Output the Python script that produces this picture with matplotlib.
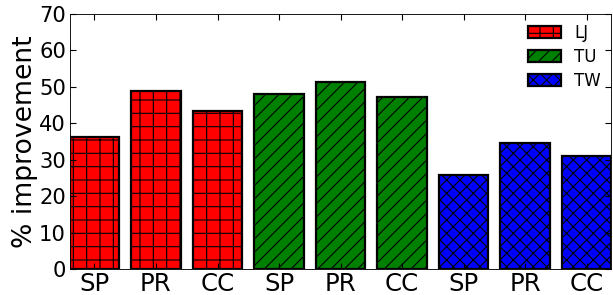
import matplotlib
matplotlib.use('Agg')
import matplotlib.pyplot as plt
import numpy as np

# data
labels = ['SP', 'PR', 'CC', 'SP', 'PR', 'CC', 'SP', 'PR', 'CC']
lj = [36.3, 48.9, 43.3]
tu = [48.1, 51.2, 47.1]
tw = [25.8, 34.5, 31.1]

groups = [('LJ', lj, 'red', '+'), ('TU', tu, 'green', '//'), ('TW', tw, 'blue', 'xx')]

plt.rcParams['hatch.linewidth'] = 1.0

fig = plt.figure(figsize=(613 / 80, 295 / 80), dpi=80)
ax = fig.add_axes([0.114, 0.088, 0.883, 0.865])

pos = 0
for name, vals, col, hatch in groups:
    x = np.arange(pos, pos + len(vals))
    ax.bar(x, vals, width=0.8, align='edge', color=col, edgecolor='black',
           linewidth=2, hatch=hatch, label=name)
    pos += len(vals)

ax.set_xlim(0, 8.8)
ax.set_ylim(0, 70)
ax.set_xticks(np.arange(len(labels)) + 0.4)
ax.set_xticklabels(labels, fontsize=22)
ax.set_yticks(np.arange(0, 71, 10))
ax.tick_params(axis='y', labelsize=19)
ax.tick_params(direction='in', top=True, right=True, length=5, width=1)
ax.tick_params(axis='x', pad=3)
ax.set_ylabel('% improvement', fontsize=24, labelpad=1)

ax.legend(loc='upper right', frameon=False, fontsize=15, handlelength=2.0,
          labelspacing=0.35, borderaxespad=0.2)

plt.savefig('out.png', dpi=80)
